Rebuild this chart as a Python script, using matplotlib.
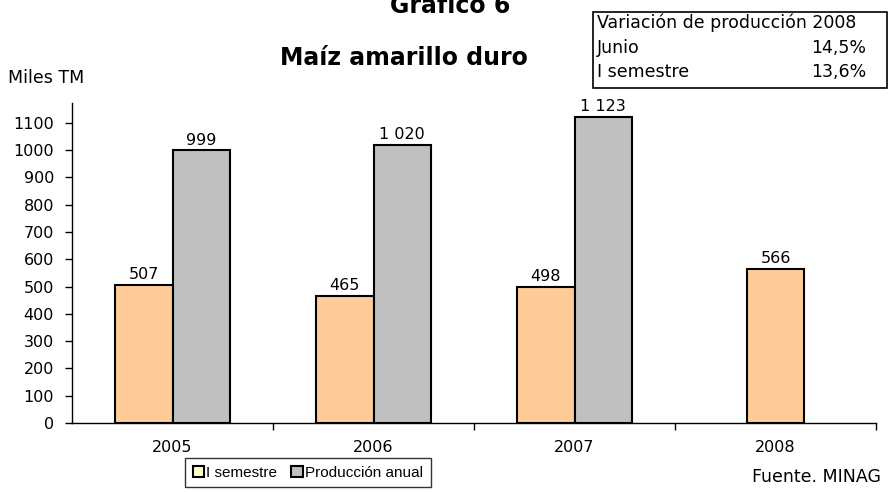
import matplotlib
matplotlib.use("Agg")
import matplotlib.pyplot as plt
from matplotlib.patches import Patch, Rectangle
import numpy as np

plt.rcParams['font.family'] = ['DejaVu Sans']

years = ['2005', '2006', '2007', '2008']
semestre = [507, 465, 498, 566]
anual = [999, 1020, 1123, None]
yticks = [0, 100, 200, 300, 400, 500, 600, 700, 800, 900, 1000, 1100]

def fmt(v):
    return f"{v:,}".replace(",", " ")

W, H = 888, 492
fig = plt.figure(figsize=(W/100, H/100), dpi=100)
ax = fig.add_axes([72/W, (H-423)/H, (876-72)/W, (423-103)/H])

x = np.arange(len(years))
bw = 0.285
c1, c2 = '#FFCC99', '#C0C0C0'
fs = 11.5
for i in range(len(years)):
    has_anual = anual[i] is not None
    off = -bw/2 if has_anual else 0
    ax.bar(x[i] + off, semestre[i], bw, color=c1, edgecolor='black', linewidth=1.5)
    ax.text(x[i] + off, semestre[i] + 10, fmt(semestre[i]), ha='center', va='bottom', fontsize=fs)
    if has_anual:
        ax.bar(x[i] + bw/2, anual[i], bw, color=c2, edgecolor='black', linewidth=1.5)
        ax.text(x[i] + bw/2, anual[i] + 10, fmt(anual[i]), ha='center', va='bottom', fontsize=fs)

ax.set_xlim(-0.5, 3.5)
ax.set_ylim(0, 1173)
ax.set_yticks(yticks)
ax.set_yticklabels([str(t) for t in yticks], fontsize=fs)
ax.set_xticks(x)
ax.set_xticklabels(years, fontsize=fs)
ax.tick_params(axis='x', length=0, pad=12)
ax.set_xticks([0.5, 1.5, 2.5, 3.5], minor=True)
ax.tick_params(axis='x', which='minor', length=5, direction='out', width=1)
ax.tick_params(axis='y', length=5, direction='out', width=1, pad=8)
for s in ['top', 'right']:
    ax.spines[s].set_visible(False)
ax.spines['left'].set_linewidth(1)
ax.spines['bottom'].set_linewidth(1)

fig.text(450/W, 1 - 13/H, 'Gráfico 6', ha='center', va='baseline', fontsize=17, fontweight='bold')
fig.text(404/W, 1 - 65/H, 'Maíz amarillo duro', ha='center', va='baseline', fontsize=17, fontweight='bold')
fig.text(8/W, 1 - 78/H, 'Miles TM', ha='left', va='center', fontsize=12.5)
fig.text(752/W, 1 - 477/H, 'Fuente. MINAG', ha='left', va='center', fontsize=12.5)

# info box
fig.patches.append(Rectangle((593/W, 1 - 88/H), (887-593)/W, (88-12)/H, transform=fig.transFigure,
                             facecolor='white', edgecolor='black', linewidth=1.2))
fig.text(597/W, 1 - 23/H, 'Variación de producción 2008', ha='left', va='center', fontsize=12.5)
fig.text(597/W, 1 - 48/H, 'Junio', ha='left', va='center', fontsize=12.5)
fig.text(866/W, 1 - 48/H, '14,5%', ha='right', va='center', fontsize=12.5)
fig.text(597/W, 1 - 72/H, 'I semestre', ha='left', va='center', fontsize=12.5)
fig.text(866/W, 1 - 72/H, '13,6%', ha='right', va='center', fontsize=12.5)

handles = [Patch(facecolor='#FFFFCC', edgecolor='black', linewidth=1.5),
           Patch(facecolor=c2, edgecolor='black', linewidth=1.5)]
leg = fig.legend(handles, ['I semestre', 'Producción anual'], loc='upper left',
                 bbox_to_anchor=(185/W, 1 - 458/H), ncol=2,
                 prop={'family': 'Liberation Sans', 'size': 11}, frameon=True,
                 fancybox=False, edgecolor='black', handlelength=0.75, handleheight=0.75,
                 handletextpad=0.15, columnspacing=0.9, borderpad=0.5, borderaxespad=0)
leg.get_frame().set_linewidth(1)

fig.savefig('out.png', dpi=100)
